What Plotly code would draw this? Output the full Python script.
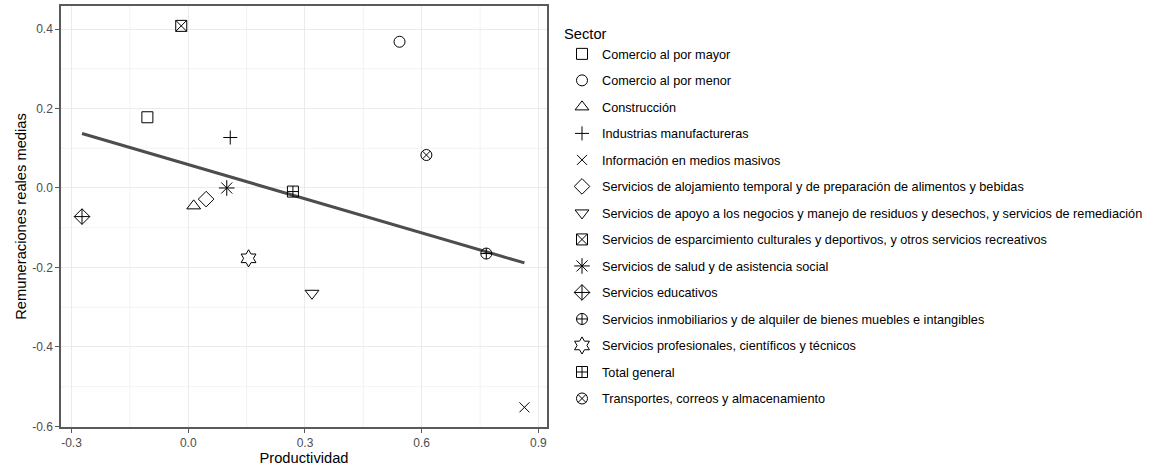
import numpy as np
import plotly.graph_objects as go

sectores = [
    "Comercio al por mayor",
    "Comercio al por menor",
    "Construcción",
    "Industrias manufactureras",
    "Información en medios masivos",
    "Servicios de alojamiento temporal y de preparación de alimentos y bebidas",
    "Servicios de apoyo a los negocios y manejo de residuos y desechos, y servicios de remediación",
    "Servicios de esparcimiento culturales y deportivos, y otros servicios recreativos",
    "Servicios de salud y de asistencia social",
    "Servicios educativos",
    "Servicios inmobiliarios y de alquiler de bienes muebles e intangibles",
    "Servicios profesionales, científicos y técnicos",
    "Total general",
    "Transportes, correos y almacenamiento",
]
productividad = [-0.105, 0.543, 0.014, 0.108, 0.864, 0.046, 0.318, -0.018, 0.099, -0.273, 0.766, 0.155, 0.269, 0.612]
remuneraciones = [0.178, 0.368, -0.045, 0.127, -0.552, -0.028, -0.265, 0.408, 0.0, -0.072, -0.165, -0.177, -0.009, 0.083]
simbolos = ["square-open", "circle-open", "triangle-up-open", "cross-thin-open", "x-thin-open",
            "diamond-open", "triangle-down-open", "square-x-open", "asterisk-open",
            "diamond-cross-open", "circle-cross-open", "hexagram-open", "square-cross-open",
            "circle-x-open"]
tamanos = [11, 11, 12, 10, 10, 12, 12, 11, 13, 12, 11, 13, 11, 11]

x_ticks = [-0.3, 0.0, 0.3, 0.6, 0.9]
x_ticklabels = ["-0.3", "0.0", "0.3", "0.6", "0.9"]
y_ticks = [-0.6, -0.4, -0.2, 0.0, 0.2, 0.4]
y_ticklabels = ["-0.6", "-0.4", "-0.2", "0.0", "0.2", "0.4"]
x_minor = [-0.15, 0.15, 0.45, 0.75]
y_minor = [-0.5, -0.3, -0.1, 0.1, 0.3]

fig = go.Figure()

# regression line (lm fit)
xa = np.array(productividad)
ya = np.array(remuneraciones)
slope, intercept = np.polyfit(xa, ya, 1)
xl = np.array([xa.min(), xa.max()])
fig.add_trace(go.Scatter(x=xl, y=intercept + slope * xl, mode="lines",
                         line=dict(color="#4D4D4D", width=3), showlegend=False,
                         hoverinfo="skip"))

for i, s in enumerate(sectores):
    fig.add_trace(go.Scatter(
        x=[productividad[i]], y=[remuneraciones[i]], mode="markers", name=s,
        legendgroup=s,
        marker=dict(symbol=simbolos[i], size=tamanos[i], color="black",
                    line=dict(color="black", width=1)),
    ))

# minor grid lines as shapes
for v in x_minor:
    fig.add_shape(type="line", xref="x", yref="paper", x0=v, x1=v, y0=0, y1=1,
                  line=dict(color="#EBEBEB", width=0.6), layer="below")
for v in y_minor:
    fig.add_shape(type="line", xref="paper", yref="y", x0=0, x1=1, y0=v, y1=v,
                  line=dict(color="#EBEBEB", width=0.6), layer="below")

font_family = "Liberation Sans, Arial, sans-serif"
axis_line = "#5a5a5a"
fig.update_layout(
    width=1166, height=467,
    margin=dict(l=61, r=619, t=6, b=40),
    paper_bgcolor="white", plot_bgcolor="white",
    font=dict(family=font_family, color="black"),
    xaxis=dict(
        range=[-0.327, 0.922], tickmode="array", tickvals=x_ticks, ticktext=x_ticklabels,
        showgrid=True, gridcolor="#EBEBEB", gridwidth=1, automargin=False,
        zeroline=False, showline=True, mirror=True, linecolor=axis_line, linewidth=1.5,
        ticks="outside", ticklen=4, tickcolor=axis_line, tickwidth=1.2,
        tickfont=dict(size=12, color="#4D4D4D"),
        title=dict(text="Productividad", font=dict(size=14.7), standoff=2),
    ),
    yaxis=dict(
        range=[-0.6015, 0.458], tickmode="array", tickvals=y_ticks, ticktext=y_ticklabels,
        showgrid=True, gridcolor="#EBEBEB", gridwidth=1, automargin=False,
        zeroline=False, showline=True, mirror=True, linecolor=axis_line, linewidth=1.5,
        ticks="outside", ticklen=4, tickcolor=axis_line, tickwidth=1.2,
        tickfont=dict(size=12, color="#4D4D4D"),
        title=dict(text="Remuneraciones reales medias", font=dict(size=14.7), standoff=2),
    ),
    legend=dict(
        title=dict(text="Sector", font=dict(size=14.7)),
        font=dict(size=12.7),
        x=(562 - 61) / 486, y=1 - 14 / 421, xanchor="left", yanchor="top",
        tracegroupgap=7, bgcolor="rgba(0,0,0,0)", maxheight=465,
    ),
)

fig.write_html("out.html", config={"displayModeBar": False},
               post_script="document.body.style.margin='0';")
